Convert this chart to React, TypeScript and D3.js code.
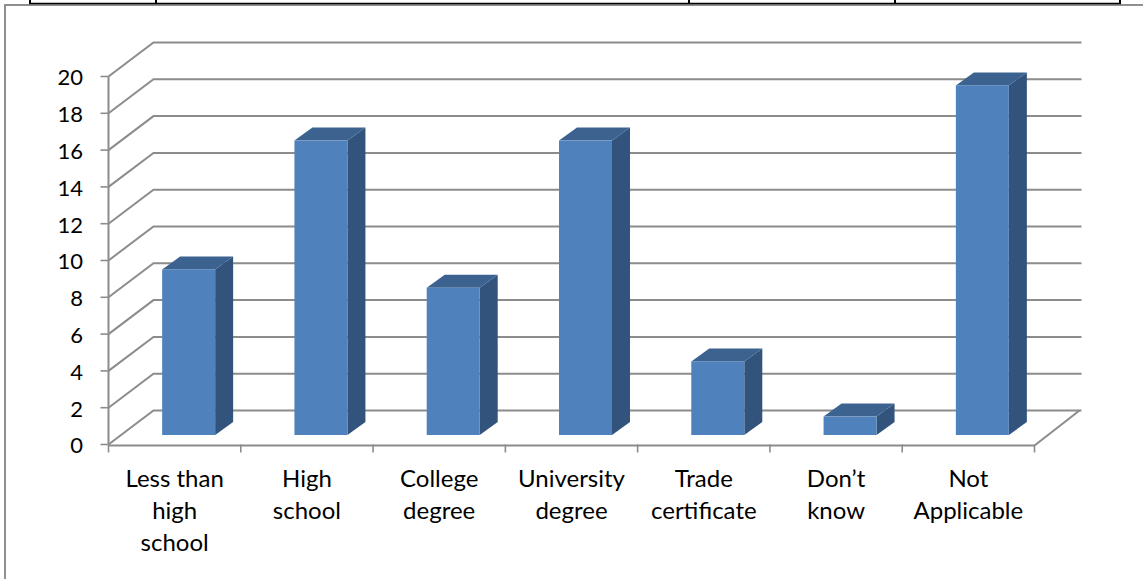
import React from "react";
import * as d3 from "d3";

const categories = ["Less than high school", "High school", "College degree", "University degree", "Trade certificate", "Don’t know", "Not Applicable"];
const categoryLines = [["Less than", "high", "school"], ["High", "school"], ["College", "degree"], ["University", "degree"], ["Trade", "certificate"], ["Don’t", "know"], ["Not", "Applicable"]];
const values = [9, 16, 8, 16, 4, 1, 19];
const yTicks = [0, 2, 4, 6, 8, 10, 12, 14, 16, 18, 20];
const tableRuleX = [30, 156, 689, 895, 1120];

const W = 1144, H = 579;
const GRID = "#8c8c8c";
const FONT = "Lato, Carlito, Calibri, sans-serif";

export default function App() {
  const y = d3.scaleLinear().domain([0, 20]).range([444.5, 76.5]);
  const x = d3.scaleBand().domain(categories).range([108.5, 1034.5]);
  const step = x.step();
  const depthX = 45, depthY = -34;
  const barW = 53, barDX = 18, barDY = -13;
  const floorOffX = 14, floorOffY = -9.5;
  const unit = y(0) - y(1);

  return (
    <svg width={W} height={H} viewBox={`0 0 ${W} ${H}`} style={{ position: "absolute", left: 0, top: 0, display: "block", background: "#fff" }} fontFamily={FONT}>
      {/* page table rule and chart frame */}
      <path d={`M5 ${H}V5H${W - 1}`} fill="none" stroke="#8f8f8f" strokeWidth={2} />
      <line x1={29} x2={1121} y1={3.5} y2={3.5} stroke="#000" strokeWidth={1.4} />
      {tableRuleX.map((tx) => <line key={tx} x1={tx} x2={tx} y1={0} y2={4} stroke="#000" strokeWidth={2} />)}

      {/* back wall gridlines and side wall diagonals */}
      {yTicks.map((t) => (
        <g key={t}>
          <path d={`M${x.range()[0]} ${y(t)}L${x.range()[0] + depthX} ${y(t) + depthY}H${x.range()[1] + depthX + 2}`} fill="none" stroke={GRID} strokeWidth={2} />
          <line x1={100.5} x2={108.5} y1={y(t)} y2={y(t)} stroke={GRID} strokeWidth={1.6} />
          <text x={83} y={y(t) + 1} dy="0.36em" textAnchor="end" fontSize={22} fill="#000">{t}</text>
        </g>
      ))}

      {/* axes */}
      <line x1={108.5} x2={108.5} y1={y(20)} y2={y(0)} stroke={GRID} strokeWidth={2} />
      <path d={`M108.5 ${y(0) + 1}H1034.5L${1034.5 + depthX} ${y(0) + depthY}`} fill="none" stroke={GRID} strokeWidth={2} />
      {d3.range(categories.length + 1).map((i) => (
        <line key={i} x1={108.5 + i * step} x2={108.5 + i * step} y1={y(0)} y2={y(0) + 8} stroke={GRID} strokeWidth={1.6} />
      ))}

      {/* bars */}
      {categories.map((c, i) => {
        const cx = (x(c) as number) + step / 2 + floorOffX;
        const l = cx - barW / 2, r = cx + barW / 2;
        const b = y(0) + floorOffY;
        const t = b - values[i] * unit;
        return (
          <g key={c}>
            <path d={`M${r} ${b}L${r + barDX} ${b + barDY}V${t + barDY}L${r} ${t}Z`} fill="#31537c" />
            <path d={`M${l} ${t}L${l + barDX} ${t + barDY}H${r + barDX}L${r} ${t}Z`} fill="#3c6290" />
            <rect x={l} y={t} width={barW} height={b - t} fill="#4f81bd" />
          </g>
        );
      })}

      {/* category labels */}
      {categories.map((c, i) => (
        <text key={c} textAnchor="middle" fontSize={24} fill="#000">
          {categoryLines[i].map((ln, j) => (
            <tspan key={j} x={(x(c) as number) + step / 2} y={487 + j * 32}>{ln}</tspan>
          ))}
        </text>
      ))}
    </svg>
  );
}
